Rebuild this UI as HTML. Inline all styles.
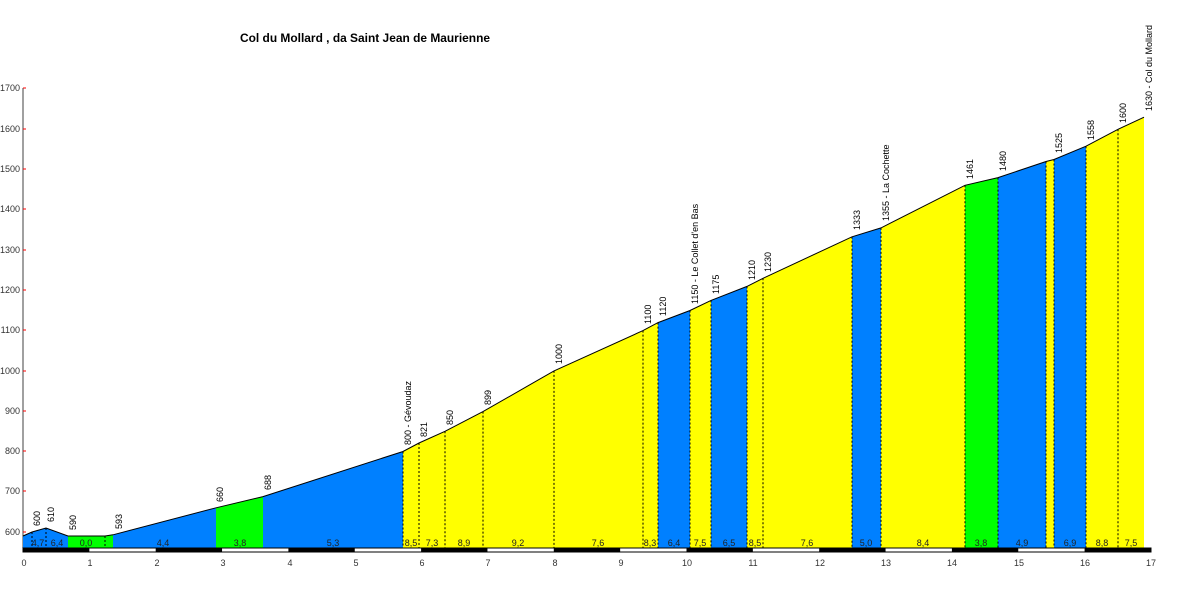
<!DOCTYPE html>
<html><head><meta charset="utf-8"><style>
html,body{margin:0;padding:0;background:#fff;}
svg text{font-family:"Liberation Sans",Arial,sans-serif;}
</style></head><body>
<svg width="1200" height="600" viewBox="0 0 1200 600" xmlns="http://www.w3.org/2000/svg">
<rect width="1200" height="600" fill="#fff"/>
<text x="240" y="42" font-size="12" font-weight="bold" fill="#000" textLength="250" lengthAdjust="spacingAndGlyphs">Col du Mollard , da Saint Jean de Maurienne</text>
<line x1="23" y1="88" x2="23" y2="548" stroke="#808080" stroke-width="1.5"/>
<g font-size="9" fill="#333" text-anchor="end">
<text x="20" y="91">1700</text><text x="20" y="132">1600</text><text x="20" y="172">1500</text><text x="20" y="212">1400</text><text x="20" y="253">1300</text><text x="20" y="293">1200</text><text x="20" y="333">1100</text><text x="20" y="374">1000</text><text x="20" y="414">900</text><text x="20" y="454">800</text><text x="20" y="494">700</text><text x="20" y="535">600</text>
</g>
<g stroke="#ff0000" stroke-width="1">
<line x1="23" y1="88" x2="26" y2="88"/><line x1="23" y1="129" x2="26" y2="129"/><line x1="23" y1="169" x2="26" y2="169"/><line x1="23" y1="209" x2="26" y2="209"/><line x1="23" y1="250" x2="26" y2="250"/><line x1="23" y1="290" x2="26" y2="290"/><line x1="23" y1="330" x2="26" y2="330"/><line x1="23" y1="371" x2="26" y2="371"/><line x1="23" y1="411" x2="26" y2="411"/><line x1="23" y1="451" x2="26" y2="451"/><line x1="23" y1="491" x2="26" y2="491"/><line x1="23" y1="532" x2="26" y2="532"/>
</g>
<g stroke="none">
<polygon fill="#0080ff" points="23,548 23,536 32,532 46,528 68,536 68,548"/>
<polygon fill="#00ff00" points="68,548 68,536 105,536 113,534.8 113,548"/>
<polygon fill="#0080ff" points="113,548 113,534.8 216,507.8 216,548"/>
<polygon fill="#00ff00" points="216,548 216,507.8 263,496.6 263,548"/>
<polygon fill="#0080ff" points="263,548 263,496.6 403,451.5 403,548"/>
<polygon fill="#ffff00" points="403,548 403,451.5 419,443 445,431.3 483,411.6 554,370.9 643,330.6 658,322.6 658,548"/>
<polygon fill="#0080ff" points="658,548 658,322.6 690,310.5 690,548"/>
<polygon fill="#ffff00" points="690,548 690,310.5 711,300.4 711,548"/>
<polygon fill="#0080ff" points="711,548 711,300.4 747,286.4 747,548"/>
<polygon fill="#ffff00" points="747,548 747,286.4 763,278.3 852,236.8 852,548"/>
<polygon fill="#0080ff" points="852,548 852,236.8 881,227.9 881,548"/>
<polygon fill="#ffff00" points="881,548 881,227.9 965,185.3 965,548"/>
<polygon fill="#00ff00" points="965,548 965,185.3 998,177.6 998,548"/>
<polygon fill="#0080ff" points="998,548 998,177.6 1046,161.5 1046,548"/>
<polygon fill="#ffff00" points="1046,548 1046,161.5 1054,159.5 1054,548"/>
<polygon fill="#0080ff" points="1054,548 1054,159.5 1086,146.2 1086,548"/>
<polygon fill="#ffff00" points="1086,548 1086,146.2 1118,129.3 1144,117.2 1144,548"/>
</g>
<polyline fill="none" stroke="#000" stroke-width="1" points="23,536 32,532 46,528 68,536 105,536 113,534.8 216,507.8 263,496.6 403,451.5 419,443 445,431.3 483,411.6 554,370.9 643,330.6 658,322.6 690,310.5 711,300.4 747,286.4 763,278.3 852,236.8 881,227.9 965,185.3 998,177.6 1046,161.5 1054,159.5 1086,146.2 1118,129.3 1144,117.2"/>
<g stroke="#000" stroke-width="1" stroke-dasharray="2,2">
<line x1="32" y1="532" x2="32" y2="548"/><line x1="46" y1="528" x2="46" y2="548"/><line x1="105" y1="536" x2="105" y2="548"/>
<line x1="403" y1="451.5" x2="403" y2="548"/><line x1="419" y1="443" x2="419" y2="548"/><line x1="445" y1="431.3" x2="445" y2="548"/><line x1="483" y1="411.6" x2="483" y2="548"/><line x1="554" y1="370.9" x2="554" y2="548"/><line x1="643" y1="330.6" x2="643" y2="548"/><line x1="658" y1="322.6" x2="658" y2="548"/><line x1="690" y1="310.5" x2="690" y2="548"/><line x1="711" y1="300.4" x2="711" y2="548"/><line x1="747" y1="286.4" x2="747" y2="548"/><line x1="763" y1="278.3" x2="763" y2="548"/><line x1="852" y1="236.8" x2="852" y2="548"/><line x1="881" y1="227.9" x2="881" y2="548"/><line x1="965" y1="185.3" x2="965" y2="548"/><line x1="998" y1="177.6" x2="998" y2="548"/><line x1="1046" y1="161.5" x2="1046" y2="548"/><line x1="1054" y1="159.5" x2="1054" y2="548"/><line x1="1086" y1="146.2" x2="1086" y2="548"/><line x1="1118" y1="129.3" x2="1118" y2="548"/>
</g>
<g font-size="9" fill="#000">
<text transform="translate(40,526) rotate(-90)">600</text>
<text transform="translate(54,522) rotate(-90)">610</text>
<text transform="translate(76,530) rotate(-90)">590</text>
<text transform="translate(122,529) rotate(-90)">593</text>
<text transform="translate(223,502) rotate(-90)">660</text>
<text transform="translate(271,490) rotate(-90)">688</text>
<text transform="translate(411,445) rotate(-90)">800 - Gévoudaz</text>
<text transform="translate(427,437) rotate(-90)">821</text>
<text transform="translate(453,425) rotate(-90)">850</text>
<text transform="translate(491,405) rotate(-90)">899</text>
<text transform="translate(562,364) rotate(-90)">1000</text>
<text transform="translate(651,324) rotate(-90)">1100</text>
<text transform="translate(666,316) rotate(-90)">1120</text>
<text transform="translate(698,304) rotate(-90)">1150 - Le Collet d'en Bas</text>
<text transform="translate(719,294) rotate(-90)">1175</text>
<text transform="translate(755,280) rotate(-90)">1210</text>
<text transform="translate(771,272) rotate(-90)">1230</text>
<text transform="translate(860,230) rotate(-90)">1333</text>
<text transform="translate(889,221) rotate(-90)">1355 - La Cochette</text>
<text transform="translate(973,179) rotate(-90)">1461</text>
<text transform="translate(1006,171) rotate(-90)">1480</text>
<text transform="translate(1062,153) rotate(-90)">1525</text>
<text transform="translate(1094,140) rotate(-90)">1558</text>
<text transform="translate(1126,123) rotate(-90)">1600</text>
<text transform="translate(1152,111) rotate(-90)">1630 - Col du Mollard</text>
</g>
<g font-size="9" fill="#222" text-anchor="middle">
<text x="38" y="546">4,7</text><text x="57" y="546">6,4</text><text x="86" y="546">0,0</text><text x="163" y="546">4,4</text><text x="240" y="546">3,8</text><text x="333" y="546">5,3</text><text x="411" y="546">8,5</text><text x="432" y="546">7,3</text><text x="464" y="546">8,9</text><text x="518" y="546">9,2</text><text x="598" y="546">7,6</text><text x="650" y="546">8,3</text><text x="674" y="546">6,4</text><text x="700" y="546">7,5</text><text x="729" y="546">6,5</text><text x="755" y="546">8,5</text><text x="807" y="546">7,6</text><text x="866" y="546">5,0</text><text x="923" y="546">8,4</text><text x="981" y="546">3,8</text><text x="1022" y="546">4,9</text><text x="1070" y="546">6,9</text><text x="1102" y="546">8,8</text><text x="1131" y="546">7,5</text>
</g>
<rect x="23" y="548" width="1128" height="4" fill="#fff" stroke="#000" stroke-width="1"/>
<g fill="#000">
<rect x="23" y="548" width="66.35" height="4"/><rect x="155.7" y="548" width="66.35" height="4"/><rect x="288.4" y="548" width="66.35" height="4"/><rect x="421.1" y="548" width="66.35" height="4"/><rect x="553.8" y="548" width="66.35" height="4"/><rect x="686.5" y="548" width="66.35" height="4"/><rect x="819.2" y="548" width="66.35" height="4"/><rect x="951.9" y="548" width="66.35" height="4"/><rect x="1084.6" y="548" width="66.4" height="4"/>
</g>
<g font-size="9" fill="#333" text-anchor="middle">
<text x="24" y="566">0</text><text x="90" y="566">1</text><text x="157" y="566">2</text><text x="223" y="566">3</text><text x="290" y="566">4</text><text x="356" y="566">5</text><text x="422" y="566">6</text><text x="488" y="566">7</text><text x="555" y="566">8</text><text x="621" y="566">9</text><text x="687" y="566">10</text><text x="753" y="566">11</text><text x="820" y="566">12</text><text x="886" y="566">13</text><text x="952" y="566">14</text><text x="1019" y="566">15</text><text x="1085" y="566">16</text><text x="1151" y="566">17</text>
</g>
</svg>
</body></html>
